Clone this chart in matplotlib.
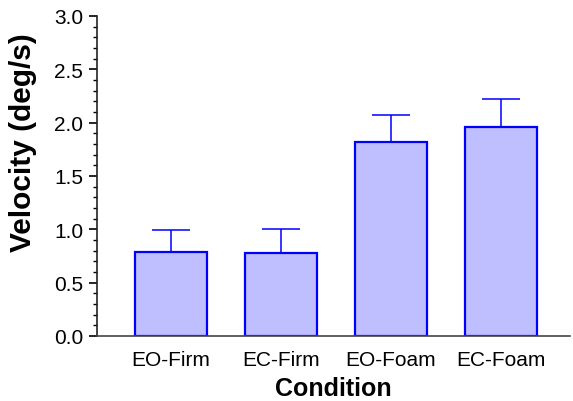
import matplotlib
matplotlib.use("Agg")
import matplotlib.pyplot as plt
from matplotlib.ticker import MultipleLocator

categories = ["EO-Firm", "EC-Firm", "EO-Foam", "EC-Foam"]
means = [0.79, 0.78, 1.82, 1.96]
errors = [0.20, 0.22, 0.25, 0.265]

plt.rcParams['font.family'] = ['Liberation Sans', 'DejaVu Sans']

fig = plt.figure(figsize=(5.73, 4.02), dpi=100)
ax = fig.add_axes([97/573, 65/402, 473/573, 320/402])

x = list(range(len(categories)))
ax.bar(x, means, width=0.66, color='#BFBFFF', edgecolor='#0000FF', linewidth=1.6, zorder=2)
ax.errorbar(x, means, yerr=[[0]*len(errors), errors], fmt='none', ecolor='#0000FF',
            elinewidth=1.1, capsize=13.7, capthick=1.1, zorder=1)

ax.set_xlim(-0.673, 3.627)
ax.set_ylim(0, 3.0)
ax.yaxis.set_major_locator(MultipleLocator(0.5))
ax.yaxis.set_minor_locator(MultipleLocator(0.1))
ax.yaxis.set_major_formatter(matplotlib.ticker.FormatStrFormatter('%.1f'))
ax.set_xticks(x)
ax.set_xticklabels(categories)

for s in ['top', 'right']:
    ax.spines[s].set_visible(False)
ax.spines['left'].set_linewidth(1.2)
ax.spines['bottom'].set_linewidth(1.2)
ax.spines['left'].set_color('#222222')
ax.spines['bottom'].set_color('#444444')

ax.tick_params(axis='y', which='major', direction='out', length=6, width=1.2, labelsize=15, pad=4)
ax.tick_params(axis='y', which='minor', direction='out', length=3, width=1.0)
ax.tick_params(axis='x', which='both', length=0, labelsize=15, pad=10)

ax.set_xlabel("Condition", fontsize=18, fontweight='bold', labelpad=5)
ax.set_ylabel("Velocity (deg/s)", fontsize=21.5, fontweight='bold')
ax.yaxis.set_label_coords(-0.127, 0.606)

fig.savefig("out.png", dpi=100)
